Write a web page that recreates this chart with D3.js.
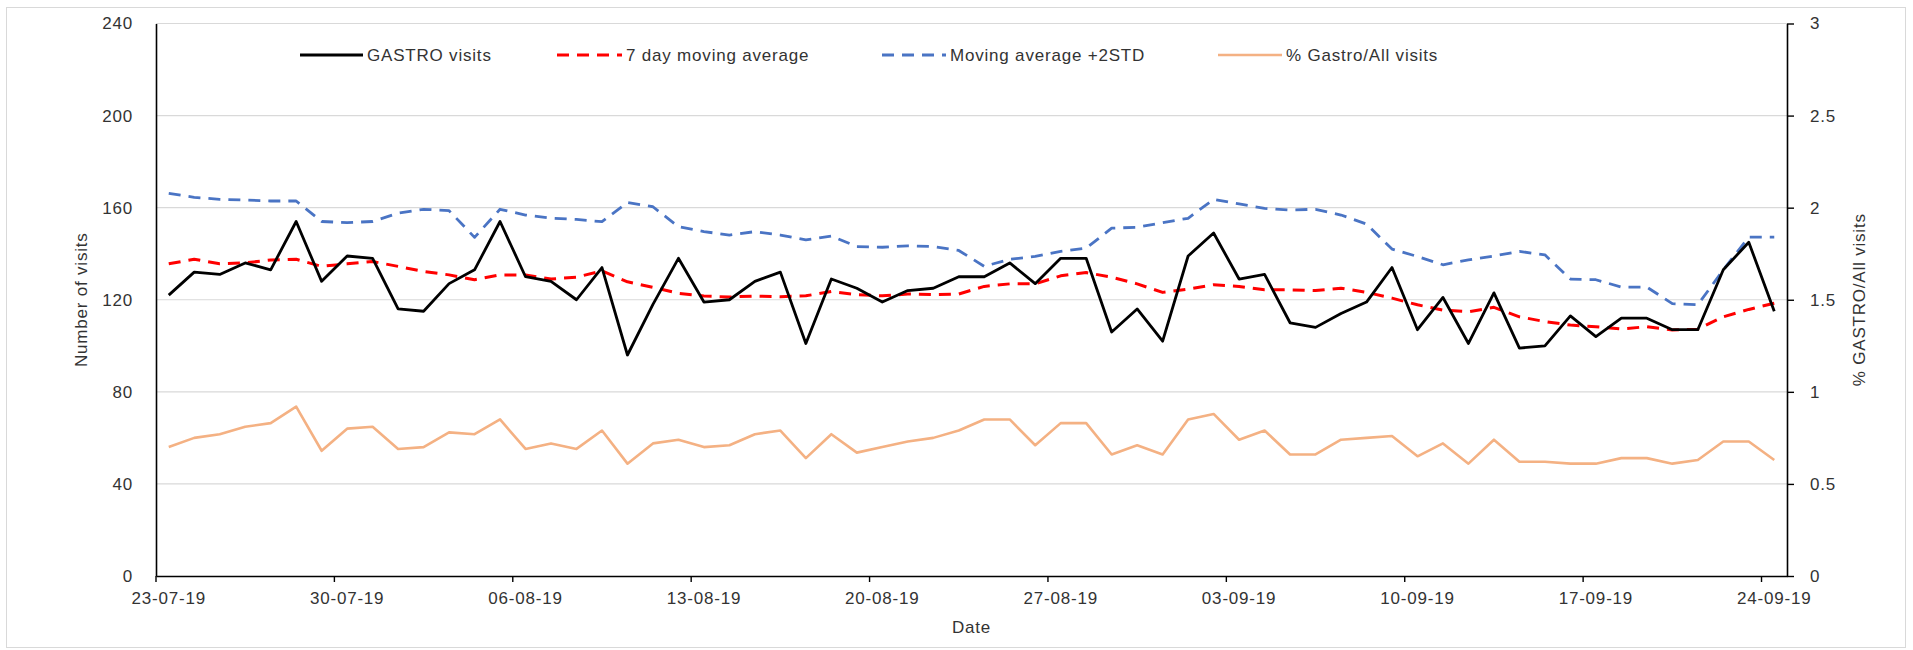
<!DOCTYPE html>
<html>
<head>
<meta charset="utf-8">
<script src="https://cdn.jsdelivr.net/npm/d3@7"></script>
<style>
  html, body { margin: 0; padding: 0; background: #fff; }
  svg text { font-family: "Liberation Sans", Arial, sans-serif; fill: #333; letter-spacing: 0.8px; }
</style>
</head>
<body>
<svg id="chart" width="1913" height="650"></svg>
<script>
// ---- data ----
const dates = [
  "23-07-19","24-07-19","25-07-19","26-07-19","27-07-19","28-07-19","29-07-19","30-07-19","31-07-19",
  "01-08-19","02-08-19","03-08-19","04-08-19","05-08-19","06-08-19","07-08-19","08-08-19","09-08-19","10-08-19",
  "11-08-19","12-08-19","13-08-19","14-08-19","15-08-19","16-08-19","17-08-19","18-08-19","19-08-19","20-08-19",
  "21-08-19","22-08-19","23-08-19","24-08-19","25-08-19","26-08-19","27-08-19","28-08-19","29-08-19","30-08-19",
  "31-08-19","01-09-19","02-09-19","03-09-19","04-09-19","05-09-19","06-09-19","07-09-19","08-09-19","09-09-19",
  "10-09-19","11-09-19","12-09-19","13-09-19","14-09-19","15-09-19","16-09-19","17-09-19","18-09-19","19-09-19",
  "20-09-19","21-09-19","22-09-19","23-09-19","24-09-19"
];
const gastroVisits = [
  122,132,131,136,133,154,128,139,138,116,115,127,133,154,130,128,120,134,96,
  118,138,119,120,128,132,101,129,125,119,124,125,130,130,136,127,138,138,106,116,
  102,139,149,129,131,110,108,114,119,134,107,121,101,123,99,100,113,104,112,112,
  107,107,133,145,115
];
const movingAvg7 = [
  135.6,137.6,135.6,136,137.3,137.6,134.5,135.6,136.6,134.5,132.3,130.8,128.7,130.8,130.8,129,129.8,132.5,127.8,
  125.4,122.8,121.6,121.2,121.6,121.3,121.7,123.6,122.2,121.7,122.5,122.2,122.5,125.8,126.9,126.9,130.4,131.8,129.8,126.9,
  123.2,124.6,126.5,125.8,124.3,124.3,124,125,123.2,120.7,117.8,115.5,114.8,116.7,112.6,110.5,109,108.3,107.3,108.3,
  106.9,107.2,112.6,115.8,118.5
];
const movingAvgPlus2Std = [
  166.2,164.5,163.6,163.3,162.9,162.9,154,153.5,154,157.6,159.3,158.7,147.1,159.3,156.8,155.4,154.9,153.9,162.2,
  160.4,151.7,149.6,148.1,149.6,148.1,146,147.7,143.1,142.8,143.4,143.1,141.4,134.5,137.6,138.8,141,142.4,151.1,151.5,
  153.5,155.4,163.6,161.6,159.7,159,159.3,156.8,152.9,142,138.8,135.2,137.3,139,141,139.5,129,128.7,125.5,125.5,
  118.3,117.8,133,147.2,147.2
];
const pctGastroAll = [
  0.70,0.75,0.77,0.81,0.83,0.92,0.68,0.80,0.81,0.69,0.70,0.78,0.77,0.85,0.69,0.72,0.69,0.79,0.61,
  0.72,0.74,0.70,0.71,0.77,0.79,0.64,0.77,0.67,0.70,0.73,0.75,0.79,0.85,0.85,0.71,0.83,0.83,0.66,0.71,
  0.66,0.85,0.88,0.74,0.79,0.66,0.66,0.74,0.75,0.76,0.65,0.72,0.61,0.74,0.62,0.62,0.61,0.61,0.64,0.64,
  0.61,0.63,0.73,0.73,0.63
];
const leftTicks = [0, 40, 80, 120, 160, 200, 240];
const rightTicks = [0, 0.5, 1, 1.5, 2, 2.5, 3];
const xTickLabels = ["23-07-19","30-07-19","06-08-19","13-08-19","20-08-19","27-08-19","03-09-19","10-09-19","17-09-19","24-09-19"];
const seriesNames = ["GASTRO visits", "7 day moving average", "Moving average +2STD", "% Gastro/All visits"];

// ---- layout ----
const svg = d3.select("#chart");
const L = 156, R = 1787, T = 23.5, B = 576;

svg.append("rect").attr("x", 6.5).attr("y", 7.5).attr("width", 1899).attr("height", 640)
  .attr("fill", "#fff").attr("stroke", "#d9d9d9").attr("stroke-width", 1);

const x = d3.scaleBand().domain(dates).range([L, R]).paddingInner(0).paddingOuter(0);
const bw = x.bandwidth();
const cx = d => x(d) + bw / 2;
const y = d3.scaleLinear().domain([0, 240]).range([B, T]);
const y2 = d3.scaleLinear().domain([0, 3]).range([B, T]);

// gridlines
svg.append("g").selectAll("line").data(leftTicks.filter(v => v > 0)).join("line")
  .attr("x1", L).attr("x2", R).attr("y1", d => y(d)).attr("y2", d => y(d))
  .attr("stroke", "#d9d9d9").attr("stroke-width", 1.2);

// left axis
const gl = svg.append("g").attr("transform", `translate(${L},0)`)
  .call(d3.axisLeft(y).tickValues(leftTicks).tickSize(0).tickPadding(23).tickSizeOuter(0));
gl.select(".domain").attr("stroke", "#000").attr("stroke-width", 1.6);
gl.selectAll("text").attr("font-size", 17);

// right axis
const gr = svg.append("g").attr("transform", `translate(${R},0)`)
  .call(d3.axisRight(y2).tickValues(rightTicks).tickFormat(d3.format("")).tickSize(7).tickPadding(16).tickSizeOuter(0));
gr.select(".domain").attr("stroke", "#000").attr("stroke-width", 1.6);
gr.selectAll(".tick line").attr("stroke", "#000").attr("stroke-width", 1.4);
gr.selectAll("text").attr("font-size", 17);

// bottom axis
const gb = svg.append("g").attr("transform", `translate(0,${B})`)
  .call(d3.axisBottom(x).tickValues(xTickLabels).tickSize(6).tickPadding(10).tickSizeOuter(0));
gb.select(".domain").attr("stroke", "#000").attr("stroke-width", 1.6);
gb.selectAll(".tick line").attr("stroke", "#000").attr("stroke-width", 1.4).attr("x1", -bw / 2).attr("x2", -bw / 2);
gb.selectAll("text").attr("font-size", 17);

// axis titles
svg.append("text").attr("transform", `translate(81,${(T + B) / 2}) rotate(-90)`)
  .attr("text-anchor", "middle").attr("dy", "0.35em").attr("font-size", 17).text("Number of visits");
svg.append("text").attr("transform", `translate(1859,${(T + B) / 2}) rotate(-90)`)
  .attr("text-anchor", "middle").attr("dy", "0.35em").attr("font-size", 17).text("% GASTRO/All visits");
svg.append("text").attr("x", (L + R) / 2).attr("y", 633).attr("text-anchor", "middle")
  .attr("font-size", 17).text("Date");

// lines
const styles = [
  { color: "#f4b183", width: 2.6, dash: null },
  { color: "#4a74c4", width: 2.8, dash: "12,8" },
  { color: "#ff0000", width: 3, dash: "12,8" },
  { color: "#000000", width: 2.8, dash: null }
];
const lineL = d3.line().x((d, i) => cx(dates[i])).y(d => y(d));
const lineR = d3.line().x((d, i) => cx(dates[i])).y(d => y2(d));

function drawLine(data, gen, s) {
  svg.append("path").datum(data).attr("d", gen).attr("fill", "none")
    .attr("stroke", s.color).attr("stroke-width", s.width)
    .attr("stroke-dasharray", s.dash).attr("stroke-linejoin", "round");
}
drawLine(pctGastroAll, lineR, styles[0]);
drawLine(movingAvgPlus2Std, lineL, styles[1]);
drawLine(movingAvg7, lineL, styles[2]);
drawLine(gastroVisits, lineL, styles[3]);

// legend
const legend = [
  { name: seriesNames[0], x1: 300, x2: 363, tx: 367, s: styles[3] },
  { name: seriesNames[1], x1: 557, x2: 622, tx: 626, s: styles[2] },
  { name: seriesNames[2], x1: 882, x2: 946, tx: 950, s: styles[1] },
  { name: seriesNames[3], x1: 1218, x2: 1282, tx: 1286, s: styles[0] }
];
const lg = svg.append("g").selectAll("g").data(legend).join("g");
lg.append("line").attr("x1", d => d.x1).attr("x2", d => d.x2).attr("y1", 55).attr("y2", 55)
  .attr("stroke", d => d.s.color).attr("stroke-width", d => d.s.width)
  .attr("stroke-dasharray", d => d.s.dash);
lg.append("text").attr("x", d => d.tx).attr("y", 61).attr("font-size", 17).text(d => d.name);
</script>
</body>
</html>
